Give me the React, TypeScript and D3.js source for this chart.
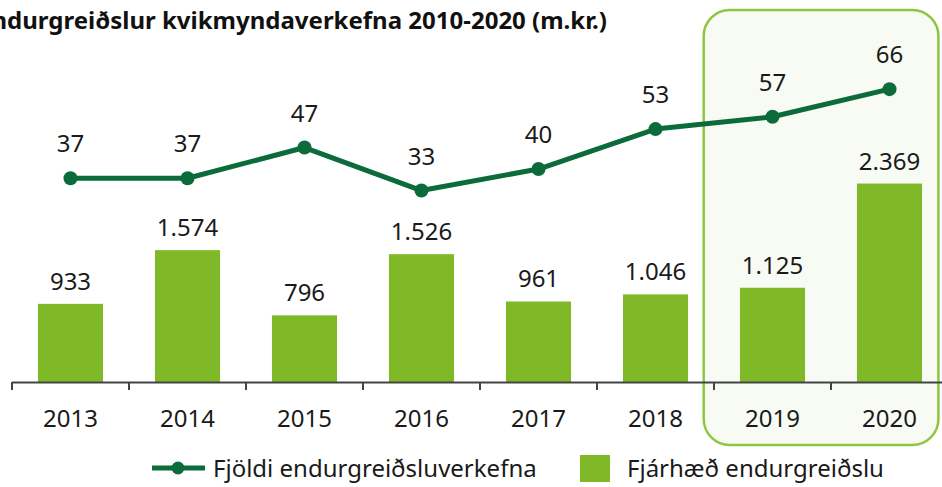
import React from "react";
import * as d3 from "d3";

const years = ["2013", "2014", "2015", "2016", "2017", "2018", "2019", "2020"];
const amounts = [933, 1574, 796, 1526, 961, 1046, 1125, 2369];
const amountLabels = ["933", "1.574", "796", "1.526", "961", "1.046", "1.125", "2.369"];
const counts = [37, 37, 47, 33, 40, 53, 57, 66];
const highlighted = ["2019", "2020"];
const title = "Endurgreiðslur kvikmyndaverkefna 2010-2020 (m.kr.)";
const legendLine = "Fjöldi endurgreiðsluverkefna";
const legendBar = "Fjárhæð endurgreiðslu";

const W = 942;
const H = 487;
const BAR = "#80b927";
const LINE = "#0c6b3b";
const FONT = "'Noto Sans', 'Open Sans', sans-serif";

export default function App() {
  const x = d3
    .scaleBand<string>()
    .domain(years)
    .range([12, 948])
    .paddingInner(0.444)
    .paddingOuter(0.222);
  const yBar = d3.scaleLinear().domain([0, 4560]).range([382, 0]);
  const yLine = d3.scaleLinear().domain([0, 95]).range([292, 0]);
  const cx = (y: string) => (x(y) as number) + x.bandwidth() / 2;
  const line = d3
    .line<number>()
    .x((_, i) => cx(years[i]))
    .y((d) => yLine(d));
  const step = x.step();
  const x0 = x.range()[0];
  const hlLeft = (x(highlighted[0]) as number) - step * 0.31;
  const hlRight = (x(highlighted[highlighted.length - 1]) as number) + x.bandwidth() + step * 0.14;

  return (
    <svg
      width={W}
      height={H}
      style={{ position: "absolute", left: 0, top: 0, background: "#fff" }}
      fontFamily={FONT}
    >
      <rect x={hlLeft} y={10} width={hlRight - hlLeft} height={435} rx={26} ry={26} fill="#f8fbf3" stroke="#8dc63f" strokeWidth={2.5} />
      <text x={607} y={29} textAnchor="end" fontSize={24} fontWeight="bold" fill="#111">
        {title}
      </text>
      {amounts.map((v, i) => (
        <rect key={"b" + i} x={x(years[i])} y={yBar(v)} width={x.bandwidth()} height={yBar(0) - yBar(v)} fill={BAR} />
      ))}
      {amounts.map((v, i) => (
        <text key={"bl" + i} x={cx(years[i])} y={yBar(v) - 14} textAnchor="middle" fontSize={24} fill="#1a1a1a">
          {amountLabels[i]}
        </text>
      ))}
      <path d={line(counts) || ""} fill="none" stroke={LINE} strokeWidth={5} strokeLinejoin="round" />
      {counts.map((v, i) => (
        <circle key={"c" + i} cx={cx(years[i])} cy={yLine(v)} r={7} fill={LINE} />
      ))}
      {counts.map((v, i) => (
        <text key={"cl" + i} x={cx(years[i])} y={yLine(v) - 26} textAnchor="middle" fontSize={24} fill="#1a1a1a">
          {v}
        </text>
      ))}
      <line x1={x0} x2={W} y1={382.5} y2={382.5} stroke="#444" strokeWidth={2} />
      {d3.range(years.length + 1).map((i) => (
        <line key={"t" + i} x1={x0 + i * step} x2={x0 + i * step} y1={382} y2={390} stroke="#444" strokeWidth={2} />
      ))}
      {years.map((yr) => (
        <text key={yr} x={cx(yr)} y={427} textAnchor="middle" fontSize={24} fill="#1a1a1a">
          {yr}
        </text>
      ))}
      <g>
        <line x1={152} x2={205} y1={468} y2={468} stroke={LINE} strokeWidth={5} />
        <circle cx={178} cy={468} r={6.5} fill={LINE} />
        <text x={213} y={477} fontSize={24} fill="#1a1a1a">{legendLine}</text>
        <rect x={580} y={455} width={30} height={27} fill={BAR} />
        <text x={627} y={477} fontSize={24} fill="#1a1a1a">{legendBar}</text>
      </g>
    </svg>
  );
}
